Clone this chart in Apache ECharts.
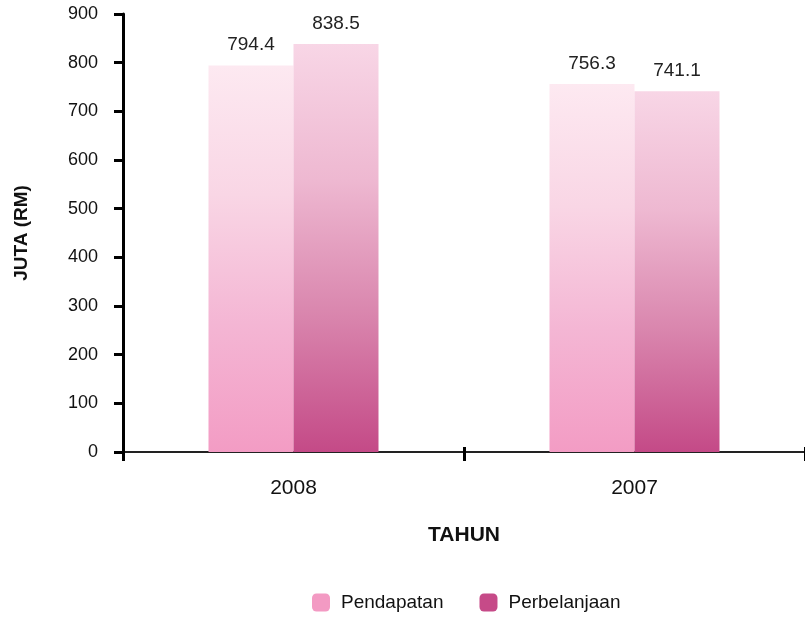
<!DOCTYPE html>
<html><head><meta charset="utf-8">
<script src="https://cdn.jsdelivr.net/npm/echarts@6/dist/echarts.min.js"></script>
<style>html,body{margin:0;padding:0;background:#fff}#c{width:805px;height:619px}</style>
</head><body><div id="c"></div>
<script>
const categories = ['2008', '2007'];
const pendapatan = [794.4, 756.3];
const perbelanjaan = [838.5, 741.1];
const yTicks = [0, 100, 200, 300, 400, 500, 600, 700, 800, 900];

const chart = echarts.init(document.getElementById('c'), null, {renderer: 'canvas'});
const font = 'Liberation Sans, Arial, sans-serif';
function grad(stops) {
  return new echarts.graphic.LinearGradient(0, 0, 0, 1, stops.map((c, i) => ({offset: i / (stops.length - 1), color: c})));
}
const labelCfg = {show: true, position: 'top', distance: 11, color: '#222', fontSize: 19, fontFamily: font, formatter: p => p.value.toFixed(1)};
chart.setOption({
  animation: false,
  grid: {left: 123, right: 0, top: 14, bottom: 167},
  legend: {
    bottom: 2, left: 307, itemWidth: 18, itemHeight: 18, itemGap: 36,
    textStyle: {fontSize: 19, fontFamily: font, color: '#111', padding: [0, 0, 0, 6]},
    data: [{name: 'Pendapatan', itemStyle: {color: '#f39ac3'}}, {name: 'Perbelanjaan', itemStyle: {color: '#c64a88'}}]
  },
  xAxis: [{
    type: 'category', data: categories,
    axisLine: {lineStyle: {color: '#222', width: 2}},
    axisTick: {show: true, length: 9, lineStyle: {color: '#000', width: 3}},
    axisLabel: {fontSize: 21, fontFamily: font, color: '#111', margin: 26},
    name: 'TAHUN', nameLocation: 'middle', nameGap: 73,
    nameTextStyle: {fontSize: 21, fontWeight: 'bold', fontFamily: font, color: '#111'}
  }, {
    type: 'category', data: categories, position: 'bottom',
    axisLine: {show: false},
    axisTick: {show: true, inside: true, length: 5, lineStyle: {color: '#000', width: 3}},
    axisLabel: {show: false}
  }],
  yAxis: {
    type: 'value', min: 0, max: 900, interval: 100,
    axisLine: {show: true, lineStyle: {color: '#000', width: 3}},
    axisTick: {show: true, length: 9, lineStyle: {color: '#000', width: 3}},
    splitLine: {show: false},
    axisLabel: {fontSize: 18, fontFamily: font, color: '#111', margin: 25,
      formatter: v => yTicks.includes(v) ? String(v) : ''},
    name: 'JUTA (RM)', nameLocation: 'middle', nameGap: 92, nameRotate: 90,
    nameTextStyle: {fontSize: 19, fontWeight: 'bold', fontFamily: font, color: '#111'}
  },
  series: [{
    name: 'Pendapatan', type: 'bar', data: pendapatan, barWidth: 85, barGap: '0%',
    itemStyle: {color: grad(['#fde9f1', '#f9d6e5', '#f4b6d4', '#f39cc4'])},
    label: labelCfg
  }, {
    name: 'Perbelanjaan', type: 'bar', data: perbelanjaan, barWidth: 85, barGap: '0%',
    itemStyle: {color: grad(['#f8d6e6', '#eeb8d1', '#d985ad', '#c44a87'])},
    label: labelCfg
  }]
});
</script></body></html>
